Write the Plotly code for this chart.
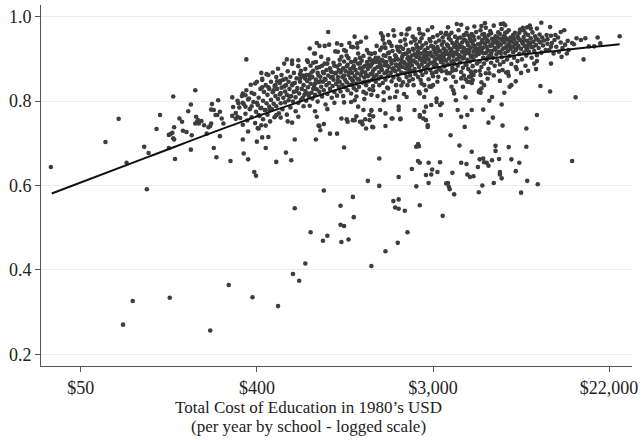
import plotly.graph_objects as go

# Each school: (natural log of total yearly cost in 1980 USD, graduation rate)
low_cost_schools = [
    (3.66, 0.644), (4.28, 0.703), (4.43, 0.758), (4.52, 0.654), (4.72, 0.692), (4.75, 0.591),
    (4.77, 0.677), (4.86, 0.734), (4.90, 0.767), (5.00, 0.720), (5.02, 0.722), (5.04, 0.725),
    (5.05, 0.712), (5.06, 0.709), (5.00, 0.689), (5.05, 0.811), (5.06, 0.738), (5.07, 0.663),
    (5.12, 0.759), (5.15, 0.751), (5.16, 0.730), (5.20, 0.727), (5.22, 0.776), (5.25, 0.792),
    (5.25, 0.685), (5.26, 0.719), (5.30, 0.826), (5.31, 0.763), (5.30, 0.747), (5.32, 0.751),
    (5.33, 0.755), (5.34, 0.747), (5.37, 0.753), (5.40, 0.743), (5.43, 0.723), (5.45, 0.738),
    (5.47, 0.741), (5.48, 0.747), (5.49, 0.793), (5.48, 0.780), (5.51, 0.779), (5.53, 0.767),
    (5.55, 0.767), (5.51, 0.689), (5.54, 0.667), (5.56, 0.802), (5.58, 0.775), (5.60, 0.759),
    (5.62, 0.747), (5.58, 0.717), (5.70, 0.658), (5.72, 0.809), (5.72, 0.765), (5.78, 0.763),
    (5.79, 0.795), (5.73, 0.786), (5.76, 0.758), (5.84, 0.818), (5.87, 0.814), (5.94, 0.820),
    (5.90, 0.804), (5.84, 0.796), (5.87, 0.787), (5.94, 0.788), (6.00, 0.796), (6.04, 0.783),
    (6.10, 0.779), (6.15, 0.779), (6.22, 0.767), (6.27, 0.761), (6.02, 0.767),
]

below_trend = [
    (4.48, 0.270), (4.59, 0.326), (5.01, 0.334), (5.47, 0.256), (5.68, 0.364), (5.95, 0.335),
    (6.24, 0.314), (6.41, 0.390), (6.48, 0.374), (6.55, 0.415), (6.43, 0.546), (6.61, 0.489),
    (6.76, 0.588), (6.75, 0.469), (6.80, 0.481), (6.95, 0.552), (6.95, 0.507), (6.99, 0.504),
    (6.96, 0.466), (7.04, 0.472), (7.09, 0.573), (7.10, 0.525), (7.26, 0.611), (7.39, 0.599),
    (7.30, 0.409), (7.46, 0.444), (7.55, 0.563), (7.61, 0.567), (7.57, 0.548), (7.61, 0.545),
    (7.68, 0.540), (7.60, 0.464), (7.71, 0.489), (7.81, 0.598), (7.61, 0.620), (7.76, 0.639),
    (7.85, 0.553), (7.83, 0.698), (7.84, 0.693), (7.83, 0.658), (7.85, 0.654), (7.92, 0.625),
    (7.98, 0.626), (7.95, 0.654), (7.95, 0.606), (7.99, 0.638), (8.05, 0.632), (8.08, 0.655),
    (7.94, 0.739), (8.11, 0.528), (8.15, 0.605), (8.17, 0.606), (8.18, 0.597), (8.19, 0.591),
    (8.20, 0.719), (8.22, 0.630), (8.24, 0.579), (8.30, 0.695), (8.32, 0.654), (8.38, 0.651),
    (8.36, 0.739), (8.39, 0.626), (8.42, 0.620), (8.46, 0.622), (8.44, 0.680), (8.51, 0.644),
    (8.53, 0.662), (8.57, 0.664), (8.58, 0.655), (8.61, 0.654), (8.63, 0.647), (8.67, 0.660),
    (8.52, 0.584), (8.56, 0.600), (8.63, 0.749), (8.69, 0.606), (8.71, 0.694), (8.71, 0.682),
    (8.75, 0.663), (8.76, 0.632), (8.76, 0.626), (8.78, 0.617), (8.79, 0.742), (8.86, 0.691),
    (8.89, 0.662), (8.94, 0.634), (8.98, 0.654), (9.00, 0.583), (9.07, 0.611), (9.06, 0.692),
    (9.06, 0.735), (9.19, 0.603), (9.18, 0.767), (9.22, 0.836), (9.33, 0.823), (9.62, 0.809),
    (9.58, 0.658), (9.71, 0.899), (9.34, 0.889), (9.17, 0.876), (9.18, 0.895), (8.94, 0.847),
    (8.87, 0.834), (8.89, 0.838), (8.85, 0.866), (8.86, 0.860), (8.81, 0.820), (8.78, 0.792),
    (8.68, 0.761), (8.67, 0.810), (8.64, 0.801), (8.57, 0.780), (8.58, 0.838), (8.54, 0.820),
    (8.53, 0.826), (8.44, 0.843), (8.45, 0.850), (8.43, 0.858), (8.46, 0.862),
    (8.09, 0.767), (8.10, 0.795), (8.04, 0.806), (7.98, 0.791), (7.92, 0.787), (7.90, 0.775),
    (7.85, 0.767), (7.89, 0.759), (8.00, 0.838), (7.90, 0.838), (7.92, 0.826), (7.86, 0.850),
    (7.84, 0.822), (8.37, 0.809), (8.37, 0.852), (8.41, 0.858), (8.43, 0.870), (8.41, 0.846),
    (8.52, 0.822), (8.55, 0.830), (8.21, 0.834), (8.23, 0.826), (8.26, 0.846), (8.32, 0.854),
    (8.16, 0.866), (8.22, 0.872), (8.09, 0.874), (8.04, 0.870),
    (8.32, 0.763), (8.28, 0.779), (8.39, 0.767), (8.26, 0.802), (8.44, 0.779),
    (5.84, 0.709), (5.85, 0.676), (5.90, 0.662), (6.00, 0.704), (6.06, 0.714), (6.13, 0.715),
    (6.02, 0.735), (6.05, 0.743), (6.10, 0.689), (5.97, 0.632), (5.99, 0.623), (6.22, 0.656),
    (6.33, 0.678), (6.39, 0.660), (6.43, 0.709), (6.40, 0.749), (6.67, 0.709), (6.68, 0.763),
    (6.71, 0.741), (6.72, 0.731), (6.83, 0.723), (6.91, 0.723), (6.99, 0.690), (6.96, 0.759),
    (7.02, 0.757), (7.09, 0.755), (7.13, 0.764), (7.20, 0.745), (7.24, 0.735), (7.23, 0.757),
    (7.28, 0.767), (7.30, 0.777), (7.32, 0.764), (7.39, 0.664), (7.46, 0.741), (7.54, 0.759),
    (7.61, 0.779), (7.63, 0.757), (7.81, 0.692), (6.70, 0.742), (6.76, 0.746), (7.03, 0.751),
    (7.17, 0.751), (7.31, 0.739),
    (7.07, 0.798), (7.15, 0.787), (7.21, 0.779), (7.11, 0.755), (7.30, 0.779), (7.28, 0.755),
    (7.32, 0.738), (7.19, 0.751), (7.44, 0.802), (7.40, 0.779), (7.46, 0.771), (7.53, 0.759),
    (7.63, 0.759), (7.61, 0.787), (7.57, 0.810), (7.70, 0.810), (7.79, 0.779), (7.85, 0.763),
    (7.92, 0.755), (7.94, 0.743), (7.85, 0.818), (7.90, 0.810), (8.04, 0.798), (8.08, 0.791),
    (8.24, 0.818), (8.34, 0.834), (8.39, 0.846), (7.98, 0.834), (7.71, 0.838), (7.49, 0.830),
    (7.32, 0.826), (7.24, 0.818), (7.13, 0.826),
    (8.53, 0.872), (8.60, 0.866), (8.69, 0.861), (8.79, 0.874), (8.85, 0.869), (8.95, 0.876),
    (9.00, 0.867), (9.08, 0.872), (8.62, 0.853), (8.76, 0.848), (8.55, 0.845),
]

upper_edge = [
    (10.12, 0.954), (9.90, 0.937), (9.87, 0.951), (9.83, 0.930), (9.77, 0.930), (9.73, 0.949),
    (9.68, 0.945), (9.60, 0.935), (9.53, 0.943), (9.49, 0.968), (9.45, 0.964), (9.39, 0.957),
    (9.33, 0.976), (9.23, 0.986), (9.18, 0.972), (9.11, 0.972), (9.07, 0.975), (9.03, 0.968),
    (8.99, 0.970), (8.98, 0.962), (8.80, 0.984), (8.82, 0.980), (8.55, 0.978), (9.52, 0.913),
    (9.46, 0.905), (9.34, 0.929),
    (5.88, 0.899), (6.05, 0.867), (6.11, 0.864), (6.06, 0.850), (5.98, 0.842), (6.06, 0.833),
    (6.13, 0.833), (6.21, 0.838), (6.34, 0.899), (6.40, 0.888), (6.47, 0.897), (6.27, 0.848),
    (6.49, 0.854), (6.54, 0.856), (6.58, 0.893), (6.64, 0.891), (6.66, 0.913), (6.71, 0.931),
    (6.77, 0.931), (6.68, 0.938), (6.81, 0.964), (6.91, 0.937), (6.92, 0.917), (6.99, 0.921),
    (7.07, 0.929), (7.14, 0.937), (7.11, 0.953), (7.43, 0.954), (7.49, 0.957), (7.64, 0.959),
    (7.71, 0.970), (8.27, 0.983), (7.73, 0.972), (7.85, 0.961), (7.94, 0.968), (8.15, 0.962),
    (8.35, 0.957),
]

core_band = [
    # ln cost 5.76 - 6.15
    (5.76, 0.772), (5.78, 0.801), (5.80, 0.785), (5.81, 0.760), (5.83, 0.812), (5.84, 0.744),
    (5.85, 0.793), (5.87, 0.770), (5.88, 0.826), (5.89, 0.754), (5.91, 0.806), (5.92, 0.781),
    (5.93, 0.839), (5.94, 0.762), (5.96, 0.798), (5.97, 0.817), (5.98, 0.748), (5.99, 0.775),
    (6.00, 0.846), (6.01, 0.791), (6.02, 0.808), (6.03, 0.765), (6.04, 0.829), (6.05, 0.784),
    (6.06, 0.853), (6.07, 0.757), (6.07, 0.801), (6.08, 0.822), (6.09, 0.779), (6.10, 0.838),
    (6.11, 0.795), (6.12, 0.768), (6.12, 0.815), (6.13, 0.862), (6.14, 0.787), (6.14, 0.829),
    (6.15, 0.752), (5.90, 0.728), (6.01, 0.736), (6.10, 0.742),
    # ln cost 6.15 - 6.55
    (6.16, 0.803), (6.16, 0.846), (6.17, 0.781), (6.18, 0.868), (6.18, 0.821), (6.19, 0.794),
    (6.20, 0.836), (6.20, 0.762), (6.21, 0.812), (6.22, 0.857), (6.22, 0.788), (6.23, 0.829),
    (6.24, 0.805), (6.24, 0.877), (6.25, 0.771), (6.26, 0.843), (6.26, 0.816), (6.27, 0.795),
    (6.28, 0.862), (6.28, 0.832), (6.29, 0.781), (6.30, 0.808), (6.30, 0.851), (6.31, 0.889),
    (6.32, 0.823), (6.32, 0.797), (6.33, 0.838), (6.34, 0.768), (6.34, 0.815), (6.35, 0.871),
    (6.36, 0.846), (6.36, 0.802), (6.37, 0.829), (6.38, 0.785), (6.38, 0.858), (6.39, 0.812),
    (6.40, 0.838), (6.40, 0.896), (6.41, 0.799), (6.42, 0.822), (6.42, 0.867), (6.43, 0.843),
    (6.44, 0.776), (6.44, 0.809), (6.45, 0.854), (6.46, 0.831), (6.47, 0.883), (6.47, 0.796),
    (6.48, 0.818), (6.49, 0.846), (6.50, 0.872), (6.50, 0.803), (6.51, 0.829), (6.52, 0.861),
    (6.53, 0.788), (6.53, 0.838), (6.54, 0.815), (6.55, 0.853), (6.35, 0.752), (6.47, 0.763),
    (6.19, 0.826), (6.23, 0.847), (6.27, 0.819), (6.31, 0.835), (6.33, 0.853), (6.37, 0.811),
    (6.41, 0.842), (6.45, 0.824), (6.49, 0.864), (6.52, 0.808),
    # ln cost 6.55 - 6.94
    (6.55, 0.824), (6.55, 0.876), (6.56, 0.801), (6.57, 0.848), (6.57, 0.897), (6.58, 0.833),
    (6.59, 0.812), (6.59, 0.862), (6.60, 0.789), (6.61, 0.841), (6.61, 0.884), (6.62, 0.820),
    (6.63, 0.857), (6.63, 0.806), (6.64, 0.872), (6.65, 0.836), (6.65, 0.913), (6.66, 0.815),
    (6.67, 0.851), (6.67, 0.893), (6.68, 0.828), (6.69, 0.867), (6.69, 0.799), (6.70, 0.845),
    (6.71, 0.881), (6.71, 0.822), (6.72, 0.858), (6.73, 0.834), (6.73, 0.905), (6.74, 0.811),
    (6.75, 0.869), (6.75, 0.846), (6.76, 0.826), (6.77, 0.889), (6.77, 0.853), (6.78, 0.792),
    (6.79, 0.838), (6.79, 0.874), (6.80, 0.817), (6.81, 0.861), (6.81, 0.899), (6.82, 0.843),
    (6.83, 0.829), (6.83, 0.878), (6.84, 0.856), (6.85, 0.808), (6.85, 0.869), (6.86, 0.836),
    (6.87, 0.891), (6.87, 0.851), (6.88, 0.822), (6.89, 0.866), (6.89, 0.918), (6.90, 0.841),
    (6.91, 0.882), (6.91, 0.813), (6.92, 0.857), (6.93, 0.834), (6.93, 0.874), (6.94, 0.898),
    (6.66, 0.776), (6.80, 0.781), (6.88, 0.796), (6.60, 0.925), (6.82, 0.934),
    (6.56, 0.862), (6.60, 0.853), (6.62, 0.868), (6.66, 0.842), (6.68, 0.879), (6.70, 0.861),
    (6.72, 0.847), (6.74, 0.884), (6.76, 0.866), (6.78, 0.851), (6.80, 0.889), (6.84, 0.871),
    (6.86, 0.858), (6.88, 0.884), (6.90, 0.867), (6.92, 0.848), (6.58, 0.818), (6.64, 0.829),
    # ln cost 6.94 - 7.33
    (6.94, 0.846), (6.94, 0.887), (6.95, 0.823), (6.95, 0.868), (6.96, 0.905), (6.97, 0.839),
    (6.97, 0.857), (6.98, 0.878), (6.98, 0.812), (6.99, 0.894), (7.00, 0.851), (7.00, 0.833),
    (7.01, 0.871), (7.01, 0.919), (7.02, 0.845), (7.03, 0.886), (7.03, 0.826), (7.04, 0.862),
    (7.04, 0.902), (7.05, 0.839), (7.06, 0.876), (7.06, 0.855), (7.07, 0.818), (7.07, 0.893),
    (7.08, 0.867), (7.09, 0.848), (7.09, 0.928), (7.10, 0.883), (7.10, 0.831), (7.11, 0.859),
    (7.12, 0.899), (7.12, 0.874), (7.13, 0.842), (7.13, 0.811), (7.14, 0.866), (7.15, 0.889),
    (7.15, 0.913), (7.16, 0.851), (7.16, 0.834), (7.17, 0.878), (7.18, 0.861), (7.18, 0.941),
    (7.19, 0.896), (7.20, 0.844), (7.20, 0.871), (7.21, 0.822), (7.21, 0.907), (7.22, 0.856),
    (7.23, 0.884), (7.23, 0.868), (7.24, 0.838), (7.25, 0.893), (7.25, 0.921), (7.26, 0.859),
    (7.26, 0.876), (7.27, 0.847), (7.28, 0.901), (7.28, 0.828), (7.29, 0.882), (7.29, 0.864),
    (7.30, 0.912), (7.31, 0.851), (7.31, 0.889), (7.32, 0.872), (7.32, 0.836), (7.33, 0.897),
    (7.33, 0.858), (6.99, 0.797), (7.11, 0.802), (7.22, 0.805), (7.30, 0.815), (7.05, 0.938),
    (7.24, 0.951), (6.96, 0.933), (7.14, 0.927),
    (6.96, 0.872), (6.99, 0.861), (7.02, 0.882), (7.05, 0.868), (7.08, 0.851), (7.09, 0.879),
    (7.11, 0.894), (7.14, 0.853), (7.17, 0.889), (7.19, 0.868), (7.21, 0.881), (7.24, 0.862),
    (7.27, 0.886), (7.29, 0.897), (7.31, 0.866), (7.02, 0.908), (7.17, 0.903), (7.27, 0.914),
    (7.08, 0.839), (7.23, 0.846),
    # ln cost 7.33 - 7.73
    (7.34, 0.877), (7.34, 0.914), (7.35, 0.846), (7.35, 0.893), (7.36, 0.862), (7.36, 0.931),
    (7.37, 0.881), (7.38, 0.853), (7.38, 0.903), (7.39, 0.869), (7.39, 0.838), (7.40, 0.921),
    (7.40, 0.887), (7.41, 0.858), (7.42, 0.898), (7.42, 0.874), (7.43, 0.843), (7.43, 0.946),
    (7.44, 0.909), (7.45, 0.866), (7.45, 0.885), (7.46, 0.851), (7.46, 0.926), (7.47, 0.893),
    (7.48, 0.872), (7.48, 0.832), (7.49, 0.914), (7.49, 0.859), (7.50, 0.881), (7.51, 0.902),
    (7.51, 0.938), (7.52, 0.867), (7.53, 0.847), (7.53, 0.889), (7.54, 0.919), (7.54, 0.876),
    (7.55, 0.856), (7.56, 0.897), (7.56, 0.955), (7.57, 0.871), (7.57, 0.909), (7.58, 0.838),
    (7.59, 0.884), (7.59, 0.929), (7.60, 0.862), (7.60, 0.899), (7.61, 0.875), (7.62, 0.917),
    (7.62, 0.851), (7.63, 0.889), (7.63, 0.942), (7.64, 0.868), (7.65, 0.905), (7.65, 0.881),
    (7.66, 0.845), (7.66, 0.924), (7.67, 0.893), (7.68, 0.866), (7.68, 0.912), (7.69, 0.878),
    (7.69, 0.934), (7.70, 0.857), (7.71, 0.901), (7.71, 0.886), (7.72, 0.871), (7.72, 0.921),
    (7.73, 0.895), (7.73, 0.848), (7.37, 0.812), (7.44, 0.821), (7.51, 0.808), (7.59, 0.823),
    (7.67, 0.817), (7.41, 0.961), (7.55, 0.968), (7.70, 0.958), (7.47, 0.868), (7.61, 0.853),
    (7.64, 0.837), (7.39, 0.892), (7.50, 0.941), (7.58, 0.887),
    (7.35, 0.903), (7.37, 0.896), (7.41, 0.879), (7.44, 0.894), (7.46, 0.907), (7.48, 0.884),
    (7.50, 0.915), (7.52, 0.897), (7.55, 0.878), (7.58, 0.905), (7.60, 0.921), (7.62, 0.883),
    (7.64, 0.898), (7.66, 0.911), (7.68, 0.889), (7.70, 0.913), (7.72, 0.904), (7.42, 0.927),
    (7.53, 0.931), (7.63, 0.929), (7.45, 0.936), (7.68, 0.946),
    # ln cost 7.73 - 8.12
    (7.73, 0.878), (7.73, 0.917), (7.74, 0.861), (7.74, 0.902), (7.75, 0.939), (7.76, 0.885),
    (7.76, 0.871), (7.77, 0.924), (7.77, 0.852), (7.78, 0.896), (7.79, 0.911), (7.79, 0.876),
    (7.80, 0.947), (7.80, 0.864), (7.81, 0.905), (7.82, 0.889), (7.82, 0.928), (7.83, 0.857),
    (7.83, 0.918), (7.84, 0.881), (7.85, 0.899), (7.85, 0.941), (7.86, 0.871), (7.86, 0.913),
    (7.87, 0.887), (7.88, 0.932), (7.88, 0.862), (7.89, 0.904), (7.89, 0.958), (7.90, 0.879),
    (7.91, 0.921), (7.91, 0.893), (7.92, 0.868), (7.92, 0.937), (7.93, 0.908), (7.94, 0.884),
    (7.94, 0.926), (7.95, 0.852), (7.95, 0.899), (7.96, 0.947), (7.97, 0.874), (7.97, 0.915),
    (7.98, 0.891), (7.98, 0.931), (7.99, 0.866), (8.00, 0.906), (8.00, 0.952), (8.01, 0.882),
    (8.01, 0.923), (8.02, 0.897), (8.03, 0.869), (8.03, 0.939), (8.04, 0.912), (8.04, 0.886),
    (8.05, 0.928), (8.06, 0.858), (8.06, 0.903), (8.07, 0.944), (8.07, 0.877), (8.08, 0.918),
    (8.09, 0.893), (8.09, 0.962), (8.10, 0.871), (8.10, 0.934), (8.11, 0.909), (8.12, 0.886),
    (8.12, 0.925), (7.78, 0.838), (7.87, 0.842), (7.96, 0.835), (8.05, 0.846), (7.84, 0.971),
    (7.99, 0.975), (7.75, 0.895), (7.81, 0.934), (7.90, 0.908), (7.93, 0.881), (8.02, 0.916),
    (8.08, 0.899), (8.11, 0.951), (7.77, 0.953), (8.00, 0.859),
    (7.74, 0.889), (7.76, 0.908), (7.78, 0.922), (7.80, 0.893), (7.82, 0.912), (7.84, 0.904),
    (7.86, 0.926), (7.88, 0.895), (7.90, 0.917), (7.92, 0.902), (7.94, 0.914), (7.96, 0.889),
    (7.98, 0.908), (8.00, 0.929), (8.02, 0.889), (8.04, 0.901), (8.06, 0.921), (8.08, 0.907),
    (8.10, 0.896), (8.12, 0.913), (7.79, 0.944), (7.87, 0.949), (7.97, 0.942), (8.05, 0.956),
    # ln cost 8.12 - 8.51
    (8.12, 0.904), (8.12, 0.941), (8.13, 0.882), (8.13, 0.923), (8.14, 0.958), (8.15, 0.896),
    (8.15, 0.871), (8.16, 0.934), (8.16, 0.912), (8.17, 0.887), (8.18, 0.949), (8.18, 0.901),
    (8.19, 0.925), (8.19, 0.866), (8.20, 0.916), (8.21, 0.893), (8.21, 0.962), (8.22, 0.938),
    (8.22, 0.879), (8.23, 0.907), (8.24, 0.929), (8.24, 0.889), (8.25, 0.953), (8.25, 0.915),
    (8.26, 0.874), (8.27, 0.899), (8.27, 0.941), (8.28, 0.922), (8.28, 0.884), (8.29, 0.968),
    (8.30, 0.909), (8.30, 0.933), (8.31, 0.892), (8.31, 0.951), (8.32, 0.869), (8.33, 0.917),
    (8.33, 0.939), (8.34, 0.901), (8.34, 0.879), (8.35, 0.926), (8.36, 0.957), (8.36, 0.911),
    (8.37, 0.887), (8.37, 0.944), (8.38, 0.921), (8.39, 0.898), (8.39, 0.973), (8.40, 0.932),
    (8.40, 0.876), (8.41, 0.913), (8.42, 0.948), (8.42, 0.894), (8.43, 0.927), (8.43, 0.905),
    (8.44, 0.959), (8.45, 0.883), (8.45, 0.937), (8.46, 0.918), (8.46, 0.899), (8.47, 0.945),
    (8.48, 0.871), (8.48, 0.926), (8.49, 0.908), (8.49, 0.964), (8.50, 0.889), (8.51, 0.935),
    (8.51, 0.915), (8.14, 0.852), (8.23, 0.858), (8.35, 0.861), (8.44, 0.864), (8.17, 0.975),
    (8.32, 0.981), (8.47, 0.977), (8.20, 0.945), (8.26, 0.928), (8.29, 0.902), (8.38, 0.886),
    (8.41, 0.955), (8.50, 0.923), (8.13, 0.911), (8.35, 0.946),
    (8.13, 0.897), (8.15, 0.918), (8.17, 0.931), (8.19, 0.909), (8.21, 0.921), (8.23, 0.896),
    (8.25, 0.934), (8.27, 0.912), (8.29, 0.927), (8.31, 0.905), (8.33, 0.928), (8.35, 0.904),
    (8.37, 0.916), (8.39, 0.938), (8.41, 0.921), (8.43, 0.943), (8.45, 0.908), (8.47, 0.931),
    (8.49, 0.917), (8.18, 0.956), (8.28, 0.949), (8.38, 0.962), (8.46, 0.954), (8.22, 0.914),
    # ln cost 8.51 - 8.91
    (8.52, 0.912), (8.52, 0.951), (8.53, 0.894), (8.53, 0.934), (8.54, 0.968), (8.55, 0.918),
    (8.55, 0.881), (8.56, 0.945), (8.57, 0.903), (8.57, 0.927), (8.58, 0.959), (8.58, 0.889),
    (8.59, 0.937), (8.60, 0.914), (8.60, 0.974), (8.61, 0.898), (8.62, 0.943), (8.62, 0.921),
    (8.63, 0.877), (8.63, 0.956), (8.64, 0.908), (8.65, 0.931), (8.65, 0.966), (8.66, 0.891),
    (8.67, 0.948), (8.67, 0.919), (8.68, 0.903), (8.68, 0.938), (8.69, 0.979), (8.70, 0.926),
    (8.70, 0.884), (8.71, 0.954), (8.72, 0.911), (8.72, 0.942), (8.73, 0.896), (8.74, 0.929),
    (8.74, 0.963), (8.75, 0.917), (8.76, 0.948), (8.76, 0.887), (8.77, 0.934), (8.78, 0.904),
    (8.78, 0.971), (8.79, 0.923), (8.80, 0.952), (8.80, 0.893), (8.81, 0.939), (8.82, 0.914),
    (8.82, 0.962), (8.83, 0.928), (8.84, 0.899), (8.84, 0.946), (8.85, 0.919), (8.86, 0.968),
    (8.86, 0.935), (8.87, 0.907), (8.88, 0.951), (8.88, 0.924), (8.89, 0.888), (8.90, 0.941),
    (8.91, 0.916), (8.91, 0.957), (8.54, 0.862), (8.64, 0.866), (8.75, 0.871), (8.83, 0.868),
    (8.59, 0.985), (8.77, 0.983), (8.56, 0.926), (8.66, 0.912), (8.73, 0.936), (8.81, 0.955),
    (8.87, 0.931), (8.61, 0.946),
    (8.53, 0.924), (8.55, 0.939), (8.57, 0.914), (8.59, 0.951), (8.61, 0.929), (8.63, 0.941),
    (8.65, 0.918), (8.67, 0.933), (8.69, 0.946), (8.71, 0.922), (8.73, 0.951), (8.75, 0.937),
    (8.77, 0.914), (8.79, 0.944), (8.81, 0.926), (8.83, 0.949), (8.85, 0.933), (8.87, 0.943),
    (8.89, 0.929), (8.56, 0.958), (8.66, 0.961), (8.76, 0.959), (8.84, 0.964), (8.62, 0.903),
    # ln cost 8.91 - 9.30
    (8.91, 0.928), (8.92, 0.947), (8.92, 0.903), (8.93, 0.962), (8.94, 0.921), (8.95, 0.939),
    (8.96, 0.895), (8.96, 0.954), (8.97, 0.931), (8.98, 0.912), (8.99, 0.945), (9.00, 0.968),
    (9.00, 0.924), (9.01, 0.899), (9.02, 0.937), (9.03, 0.952), (9.03, 0.915), (9.04, 0.931),
    (9.05, 0.961), (9.06, 0.908), (9.07, 0.943), (9.07, 0.925), (9.08, 0.957), (9.09, 0.917),
    (9.10, 0.936), (9.11, 0.949), (9.12, 0.903), (9.12, 0.928), (9.13, 0.963), (9.14, 0.941),
    (9.15, 0.919), (9.16, 0.954), (9.17, 0.933), (9.18, 0.909), (9.19, 0.946), (9.20, 0.926),
    (9.21, 0.958), (9.22, 0.939), (9.23, 0.915), (9.24, 0.951), (9.25, 0.932), (9.26, 0.944),
    (9.28, 0.921), (9.29, 0.957), (9.30, 0.936), (8.94, 0.881), (9.05, 0.884), (9.15, 0.889),
    (9.02, 0.974), (9.10, 0.979),
    (8.93, 0.935), (8.97, 0.949), (9.01, 0.941), (9.04, 0.944), (9.08, 0.933), (9.11, 0.939),
    (9.14, 0.929), (9.17, 0.947), (9.21, 0.941), (8.95, 0.925), (9.06, 0.921),
    # ln cost 9.30 - 9.65
    (9.30, 0.947), (9.32, 0.921), (9.34, 0.955), (9.35, 0.938), (9.37, 0.913), (9.38, 0.945),
    (9.40, 0.929), (9.42, 0.951), (9.43, 0.917), (9.45, 0.939), (9.47, 0.926), (9.50, 0.934),
    (9.54, 0.921), (9.58, 0.938), (9.63, 0.949),
]

# Smoothed trend of graduation rate against logged cost
fit_log_cost = [3.67, 4.78, 5.80, 6.45, 7.15, 7.82, 8.51, 9.30, 10.12]
fit_rate = [0.581, 0.669, 0.749, 0.796, 0.842, 0.871, 0.897, 0.917, 0.935]

cost_tick_positions = [4, 6, 8, 10]
cost_tick_labels = ["$50", "$400", "$3,000", "$22,000"]
rate_ticks = [0.2, 0.4, 0.6, 0.8, 1.0]

x_title_lines = ["Total Cost of Education in 1980\u2019s USD",
                 "(per year by school - logged scale)"]

schools = low_cost_schools + below_trend + upper_edge + core_band
school_log_cost = [p[0] for p in schools]
school_rate = [p[1] for p in schools]

SERIF = "Liberation Serif"
AXIS_GREY = "#555555"
TEXT = "#222222"

fig = go.Figure()
fig.add_trace(go.Scatter(
    x=school_log_cost, y=school_rate, mode="markers",
    marker=dict(size=4.6, color="#3d3d3d", line=dict(width=0)),
    showlegend=False, hoverinfo="skip",
))
fig.add_trace(go.Scatter(
    x=fit_log_cost, y=fit_rate, mode="lines",
    line=dict(color="#111111", width=2, shape="spline", smoothing=1.0),
    showlegend=False, hoverinfo="skip",
))

# two-line axis title, each line placed separately for tighter spacing
title_annotations = [
    dict(text=line, xref="paper", yref="paper", x=0.453, y=y_pos,
         xanchor="center", yanchor="middle", showarrow=False,
         font=dict(family=SERIF, size=17, color=TEXT))
    for line, y_pos in zip(x_title_lines, [-0.114, -0.168])
]

fig.update_layout(
    width=643, height=440,
    margin=dict(l=41, r=8, t=5, b=74),
    paper_bgcolor="white", plot_bgcolor="white",
    font=dict(family=SERIF, color=TEXT, size=18),
    xaxis=dict(
        range=[3.548, 10.26], tickmode="array",
        tickvals=cost_tick_positions, ticktext=cost_tick_labels,
        showgrid=False, zeroline=False,
        showline=True, linecolor=AXIS_GREY, linewidth=1,
        ticks="outside", ticklen=5, tickcolor=AXIS_GREY,
        tickfont=dict(family=SERIF, size=18, color=TEXT),
    ),
    yaxis=dict(
        range=[0.172, 1.028], tickmode="array", tickvals=rate_ticks,
        tickformat=".1f",
        showgrid=True, gridcolor="#ececec", gridwidth=1, zeroline=False,
        showline=True, linecolor=AXIS_GREY, linewidth=1,
        ticks="outside", ticklen=5, tickcolor=AXIS_GREY,
        tickfont=dict(family=SERIF, size=18, color=TEXT),
    ),
    annotations=title_annotations,
)

fig.write_html("out.html")
